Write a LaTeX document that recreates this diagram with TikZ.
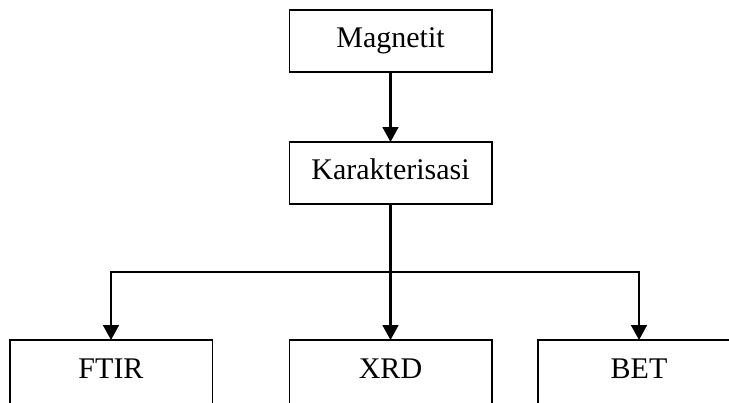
\documentclass[tikz,border=0pt]{standalone}
\usepackage{fontspec}
\setmainfont{Liberation Serif}
\usetikzlibrary{arrows.meta,positioning}
\tikzstyle{box}=[rectangle,draw,line width=0.6pt,minimum width=81pt,minimum height=24.8pt,outer sep=0pt,text height=8pt,text depth=3pt,font=\fontsize{12}{14}\selectfont]
\tikzstyle{testbox}=[box,minimum height=25.6pt]
\tikzstyle{link}=[line width=1pt]
\tikzstyle{arr}=[-{Triangle[length=6pt,width=6.3pt]},line width=1pt]

\begin{document}
\begin{tikzpicture}
\clip[use as bounding box] (0,0) rectangle (291.6pt,-160.8pt);
\node (mag) [box] at (156.2pt,-16.4pt) {Magnetit};
\node (kar) [box, below=28pt of mag] {Karakterisasi};
\node (xrd) [testbox, below=54.4pt of kar] {XRD};
\node (ftir) [testbox, left=30.8pt of xrd] {FTIR};
\node (bet) [testbox, right=18.4pt of xrd] {BET};
\coordinate [below=27.2pt of kar] (split);
\draw [arr] (mag) -- (kar);
\draw [link] (kar) -- (split);
\draw [arr] (split) -| (ftir);
\draw [arr] (split) -- (xrd);
\draw [arr] (split) -| (bet);
\end{tikzpicture}
\end{document}
